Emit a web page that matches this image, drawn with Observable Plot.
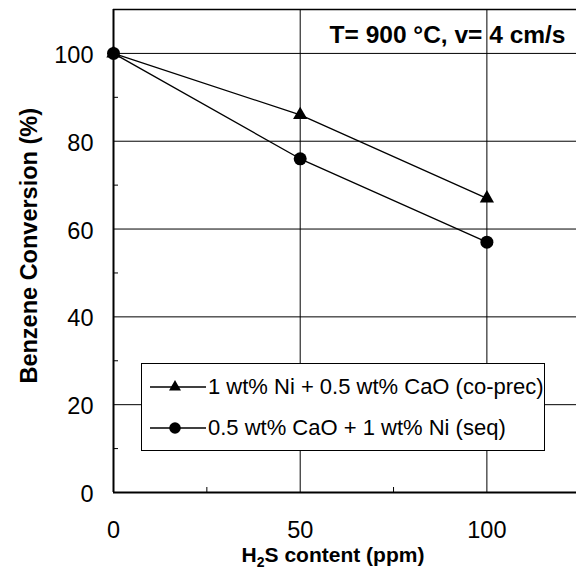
<!DOCTYPE html>
<html><head><meta charset="utf-8">
<script src="https://cdn.jsdelivr.net/npm/d3@7"></script>
<script src="https://cdn.jsdelivr.net/npm/@observablehq/plot@0.6"></script>
<style>
body{margin:0;background:#fff;}
#wrap{position:relative;width:576px;height:573px;font-family:"Liberation Sans",Arial,sans-serif;}
#legend{position:absolute;left:141px;top:363px;width:402px;height:86px;border:1px solid #000;background:#fff;}
.row{position:absolute;left:0;height:30px;display:flex;align-items:center;font-size:22px;white-space:nowrap;}
.row svg{display:block;}
</style></head><body><div id="wrap"></div>
<script>
const h2s = [0, 50, 100];
const coprec = [100, 86, 67];
const seq = [100, 76, 57];
const seriesNames = ["1 wt% Ni + 0.5 wt% CaO (co-prec)", "0.5 wt% CaO + 1 wt% Ni (seq)"];
const seriesSymbols = ["triangle", "circle"];
const xTicks = [0, 50, 100];
const yTicks = [0, 20, 40, 60, 80, 100];
const xMinor = [25, 75];
const yMinor = [10, 30, 50, 70, 90];
const annotation = "T= 900 °C, v= 4 cm/s";
const yTitle = "Benzene Conversion (%)";

const font = '"Liberation Sans", Arial, sans-serif';
const d1 = h2s.map((x, i) => ({x, y: coprec[i]}));
const d2 = h2s.map((x, i) => ({x, y: seq[i]}));

const W = 576, H = 573, mL = 113, mR = 0, mT = 9, mB = 81;

const svg = Plot.plot({
  width: W, height: H, marginLeft: mL, marginRight: mR, marginTop: mT, marginBottom: mB,
  x: {domain: [0, 124]},
  y: {domain: [0, 110]},
  style: {fontFamily: font, fontSize: "23.5px", color: "#000", background: "#fff"},
  marks: [
    Plot.ruleY(yTicks.filter(d => d > 0), {stroke: "#000", strokeWidth: 1}),
    Plot.ruleX(xTicks.filter(d => d > 0), {stroke: "#000", strokeWidth: 1}),
    Plot.ruleY([110], {stroke: "#000", strokeWidth: 1.5}),
    Plot.tickY(yMinor, {stroke: "#000", strokeWidth: 1, insetRight: W - mL - mR - 5}),
    Plot.tickX(xMinor, {stroke: "#000", strokeWidth: 1, insetTop: H - mT - mB - 5}),
    Plot.ruleX([0], {stroke: "#000", strokeWidth: 2}),
    Plot.ruleY([0], {stroke: "#000", strokeWidth: 2}),
    Plot.line(d1, {x: "x", y: "y", stroke: "#000", strokeWidth: 1.3}),
    Plot.line(d2, {x: "x", y: "y", stroke: "#000", strokeWidth: 1.3}),
    Plot.dot(d1, {x: "x", y: "y", symbol: "triangle", r: 5.3, fill: "#000", stroke: "none"}),
    Plot.dot(d2, {x: "x", y: "y", symbol: "circle", r: 6.5, fill: "#000", stroke: "none"}),
    Plot.text([annotation], {frameAnchor: "top-right", textAnchor: "end", lineAnchor: "middle",
      dx: -11, dy: 26, fontWeight: "bold", fontSize: 24.5, fill: "#000"}),
    Plot.axisX({ticks: xTicks, tickSize: 0, tickPadding: 29, label: null, fontSize: 23.5}),
    Plot.axisY({ticks: yTicks, tickSize: 0, tickPadding: 20, label: null, fontSize: 23.5, dy: 2})
  ]
});

const s = d3.select(svg);
// x axis title with subscript
const xt = s.append("text").attr("x", 333).attr("y", 562).attr("text-anchor", "middle")
  .attr("font-family", font).attr("font-weight", "bold").attr("font-size", 21).attr("fill", "#000");
xt.append("tspan").text("H");
xt.append("tspan").attr("font-size", 14).attr("dy", 5).text("2");
xt.append("tspan").attr("dy", -5).text("S content (ppm)");
// y axis title
s.append("text").attr("transform", "translate(37,108) rotate(-90)").attr("text-anchor", "end")
  .attr("font-family", font).attr("font-weight", "bold").attr("font-size", 23.5).attr("fill", "#000")
  .text(yTitle);

const wrap = document.getElementById("wrap");
wrap.appendChild(svg);

// legend
const legend = d3.select(wrap).append("div").attr("id", "legend");
const rowTops = [7.7, 48.7];
seriesNames.forEach((name, i) => {
  const row = legend.append("div").attr("class", "row").style("top", rowTops[i] + "px");
  const sw = row.append("svg").attr("width", 66).attr("height", 30);
  sw.append("line").attr("x1", 8).attr("x2", 64).attr("y1", 15).attr("y2", 15)
    .attr("stroke", "#000").attr("stroke-width", 1.3);
  const sym = seriesSymbols[i] === "triangle" ? d3.symbol(d3.symbolTriangle, 62) : d3.symbol(d3.symbolCircle, Math.PI * 5.75 * 5.75);
  sw.append("path").attr("d", sym()).attr("transform", "translate(33,15)").attr("fill", "#000");
  row.append("span").text(name);
});
</script>
</body></html>
